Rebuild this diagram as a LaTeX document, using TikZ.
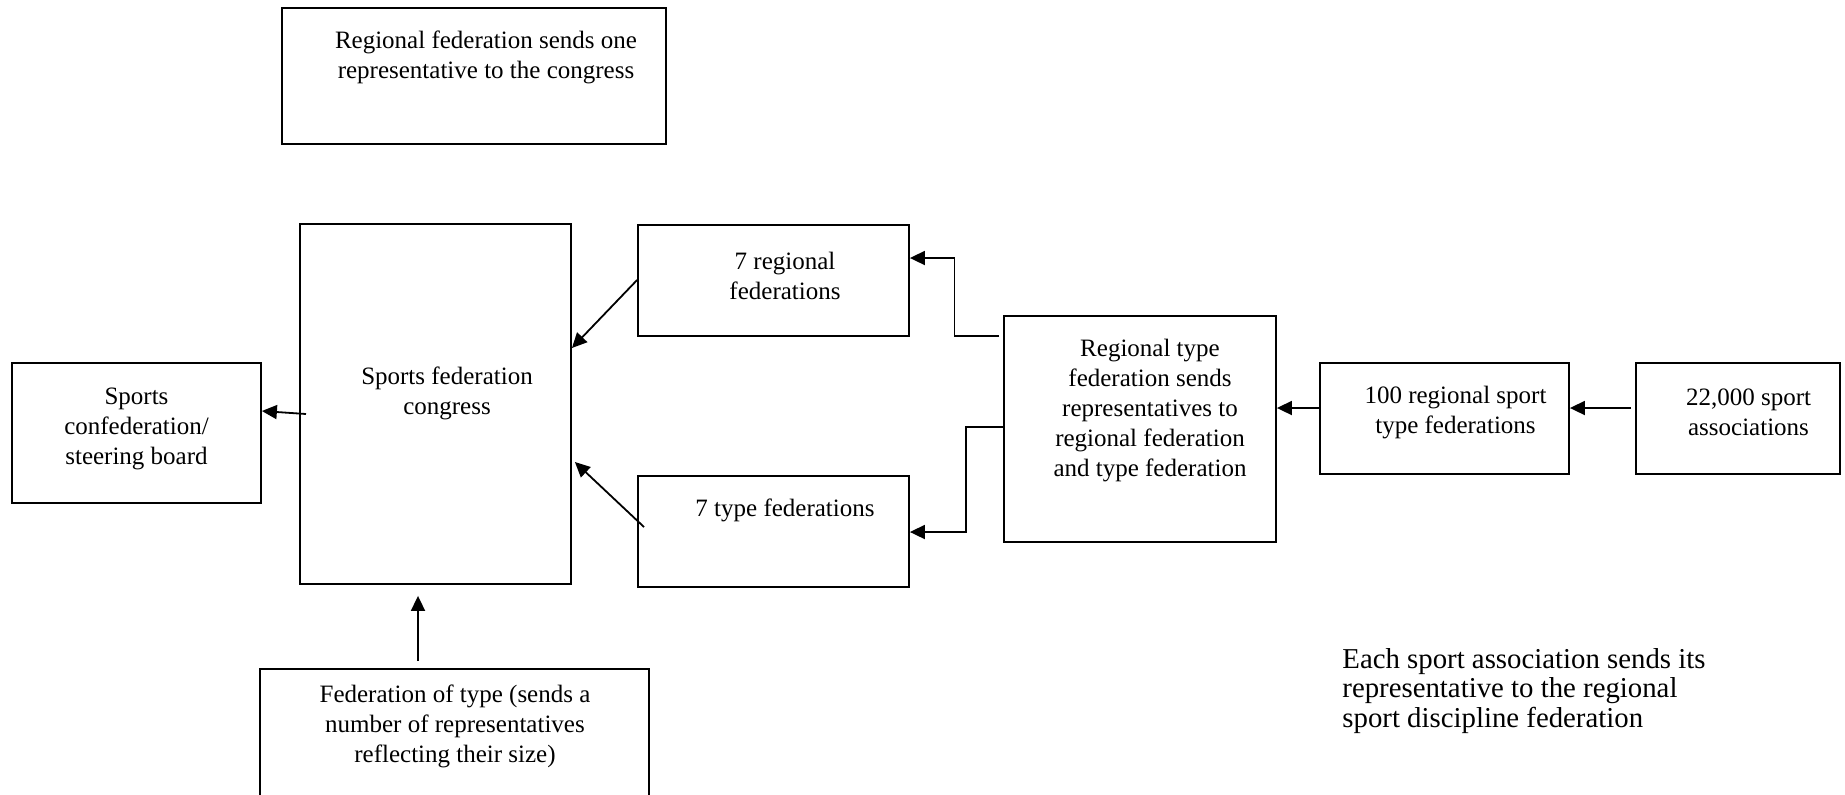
\documentclass[tikz,border=0pt]{standalone}
\usepackage{fontspec}
\setmainfont{Liberation Serif}
\usetikzlibrary{arrows.meta,calc}

\begin{document}
\begin{tikzpicture}[x=0.5pt,y=-0.5pt,
  box/.style={draw,line width=0.9pt,inner sep=0pt,rectangle},
  lbl/.style={inner sep=0pt,align=center,font=\fontsize{12.5}{15}\selectfont},
  arr/.style={line width=0.9pt,-{Triangle[length=7.5pt,width=7pt]}},
  wire/.style={line width=0.9pt}]
\clip (0,0) rectangle (1845,794);
\fill[white] (0,0) rectangle (1845,794);

% boxes
\node[box,minimum width=192pt,minimum height=68pt] (top) at (474,76) {};
\node[box,minimum width=135.5pt,minimum height=180pt] (cong) at (435.5,404) {};
\node[box,minimum width=124.5pt,minimum height=70pt] (conf) at (136.5,433) {};
\node[box,minimum width=135.5pt,minimum height=55.5pt] (reg) at (773.5,280.5) {};
\node[box,minimum width=135.5pt,minimum height=55.5pt] (typ) at (773.5,531.5) {};
\node[box,minimum width=136pt,minimum height=113pt] (rtf) at (1140,429) {};
\node[box,minimum width=124.5pt,minimum height=55.5pt] (rsf) at (1444.5,418.5) {};
\node[box,minimum width=102pt,minimum height=55.5pt] (assoc) at (1738,418.5) {};
\node[box,minimum width=194.5pt,minimum height=85.5pt] (fot) at (454.5,754.5) {};

% texts
\node[lbl] (ttop) at (486,57.5) {Regional federation sends one\\representative to the congress};
\node[lbl] (tcong) at (447,393.5) {Sports federation\\congress};
\node[lbl] (tconf) at (136.5,428.5) {Sports\\confederation/\\steering board};
\node[lbl] (treg) at (785,275.5) {7 regional\\federations};
\node[lbl] (ttyp) at (785,510.5) {7 type federations};
\node[lbl] (trtf) at (1150,411) {Regional type\\federation sends\\representatives to\\regional federation\\and type federation};
\node[lbl] (trsf) at (1455.5,412.5) {100 regional sport\\type federations};
\node[lbl] (tassoc) at (1748.5,412.5) {22,000 sport\\associations};
\node[lbl] (tfot) at (455,726.5) {Federation of type (sends a\\number of representatives\\reflecting their size)};
\node[inner sep=0pt,align=left,anchor=west,font=\fontsize{14.4}{14.7}\selectfont] (note) at (1342,691)
  {Each sport association sends its\\representative to the regional\\sport discipline federation};

% connectors
\coordinate (c1) at (306,414);
\draw[arr] (c1) -- (conf.east |- 0,411);
\draw[arr] (reg.west |- 0,280) -- (cong.east |- 0,348);
\coordinate (c2) at (644,527);
\draw[arr] (c2) -- ($(cong.east |- 0,462)+(3,0)$);
\draw[arr] ($(rtf.west |- 0,336)+(-4,0)$) -| (954.5,258) -- (reg.east |- 0,258);
\draw[arr] (rtf.west |- 0,427) -| (966,532) -- (typ.east |- 0,532);
\draw[arr] (rsf.west |- 0,408) -- (rtf.east |- 0,408);
\draw[arr] ($(assoc.west |- 0,408)+(-4,0)$) -- (rsf.east |- 0,408);
\draw[arr] ($(fot.north -| 418,0)+(0,-7)$) -- ($(cong.south -| 418,0)+(0,11)$);
\end{tikzpicture}
\end{document}
